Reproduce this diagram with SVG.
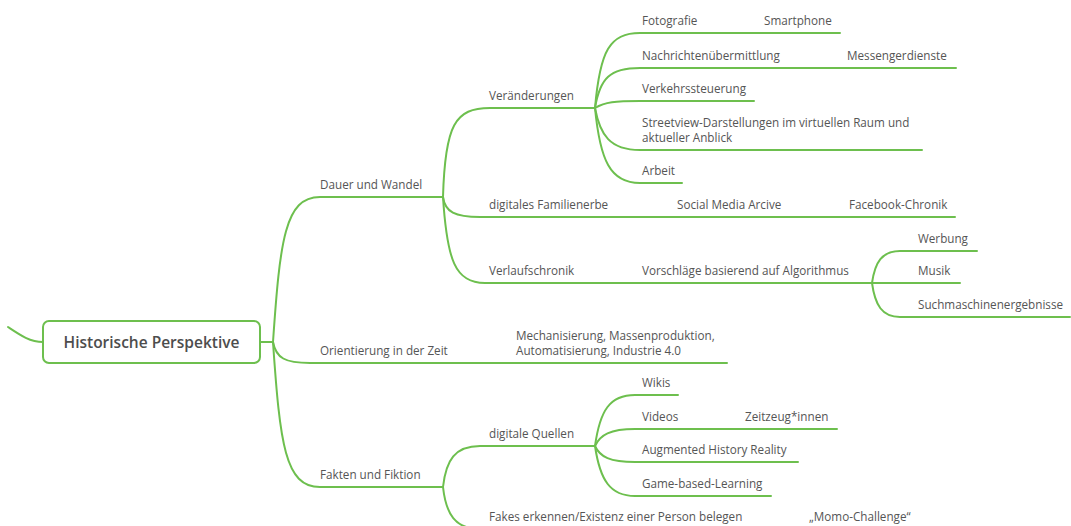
<svg xmlns="http://www.w3.org/2000/svg" width="1071" height="526" viewBox="0 0 1071 526">
  <style>
    .edge { fill: none; stroke: #6dbf4e; stroke-width: 2; stroke-linecap: round; }
    .lbl { font-family: "Open Sans", "Liberation Sans", sans-serif; font-size: 11.7px; fill: #555; }
    .root-box { fill: #fff; stroke: #6dbf4e; stroke-width: 2; }
    .root-lbl { font-family: "Open Sans", "Liberation Sans", sans-serif; font-size: 15.5px; font-weight: 600; fill: #4d4d4d; }
  </style>

  <!-- branches: each path runs from its parent's junction, bends, then underlines the topic -->
  <g id="connectors">
    <path class="edge" d="M8,327 C20,335 30,342 43,342"/>
    <path class="edge" d="M260,342 H273"/>
    <!-- main branches -->
    <path class="edge" d="M273,342 C280,240 285,197 320,197 H443"/>
    <path class="edge" d="M273,342 C276,358 285,363 310,363 H727"/>
    <path class="edge" d="M273,342 C280,444 285,487 320,487 H443"/>
    <!-- Dauer und Wandel -->
    <path class="edge" d="M443,197 C445,125 455,108 490,108 H595"/>
    <path class="edge" d="M443,197 C445,212 455,217 480,217 H955"/>
    <path class="edge" d="M443,197 C447,260 455,283 485,283 H872"/>
    <!-- Veränderungen -->
    <path class="edge" d="M595,108 C600,50 610,33 640,33 H840"/>
    <path class="edge" d="M595,108 C600,78 610,68 640,68 H956"/>
    <path class="edge" d="M595,108 C605,102 615,101 640,101 H754"/>
    <path class="edge" d="M595,108 C600,135 610,150 640,150 H922"/>
    <path class="edge" d="M595,108 C600,160 610,183 640,183 H682"/>
    <!-- Vorschläge basierend auf Algorithmus -->
    <path class="edge" d="M872,283 C875,262 882,251 900,251 H977"/>
    <path class="edge" d="M872,283 H960"/>
    <path class="edge" d="M872,283 C875,305 882,317 900,317 H1070"/>
    <!-- Fakten und Fiktion -->
    <path class="edge" d="M443,487 C446,460 455,446 480,446 H595"/>
    <path class="edge" d="M443,487 C446,514 455,529 480,529 H800"/>
    <!-- digitale Quellen -->
    <path class="edge" d="M595,446 C600,410 610,395 635,395 H678"/>
    <path class="edge" d="M595,446 C600,435 610,429 635,429 H837"/>
    <path class="edge" d="M595,446 C600,457 610,462 635,462 H798"/>
    <path class="edge" d="M595,446 C600,480 610,496 635,496 H771"/>
  </g>

  <g id="root">
    <rect class="root-box" x="43" y="321" width="217" height="42" rx="6"/>
    <text class="root-lbl" x="151.5" y="347.5" text-anchor="middle">Historische Perspektive</text>
  </g>

  <g id="dauer-und-wandel"><text class="lbl" x="320" y="189">Dauer und Wandel</text></g>
  <g id="veraenderungen"><text class="lbl" x="489" y="100">Veränderungen</text></g>
  <g id="fotografie"><text class="lbl" x="642" y="25">Fotografie</text></g>
  <g id="smartphone"><text class="lbl" x="764" y="25">Smartphone</text></g>
  <g id="nachrichten"><text class="lbl" x="642" y="60">Nachrichtenübermittlung</text></g>
  <g id="messenger"><text class="lbl" x="847" y="60">Messengerdienste</text></g>
  <g id="verkehr"><text class="lbl" x="642" y="93">Verkehrssteuerung</text></g>
  <g id="streetview">
    <text class="lbl" x="642" y="127">Streetview-Darstellungen im virtuellen Raum und</text>
    <text class="lbl" x="642" y="142">aktueller Anblick</text>
  </g>
  <g id="arbeit"><text class="lbl" x="642" y="175">Arbeit</text></g>
  <g id="familienerbe"><text class="lbl" x="489" y="209">digitales Familienerbe</text></g>
  <g id="social-media"><text class="lbl" x="677" y="209">Social Media Arcive</text></g>
  <g id="facebook"><text class="lbl" x="849" y="209">Facebook-Chronik</text></g>
  <g id="verlaufschronik"><text class="lbl" x="489" y="275">Verlaufschronik</text></g>
  <g id="vorschlaege"><text class="lbl" x="642" y="275">Vorschläge basierend auf Algorithmus</text></g>
  <g id="werbung"><text class="lbl" x="918" y="243">Werbung</text></g>
  <g id="musik"><text class="lbl" x="918" y="275">Musik</text></g>
  <g id="suchmaschinen"><text class="lbl" x="918" y="309">Suchmaschinenergebnisse</text></g>

  <g id="orientierung"><text class="lbl" x="320" y="355">Orientierung in der Zeit</text></g>
  <g id="industrie">
    <text class="lbl" x="516" y="340">Mechanisierung, Massenproduktion,</text>
    <text class="lbl" x="516" y="355">Automatisierung, Industrie 4.0</text>
  </g>

  <g id="fakten"><text class="lbl" x="320" y="479">Fakten und Fiktion</text></g>
  <g id="digitale-quellen"><text class="lbl" x="489" y="438">digitale Quellen</text></g>
  <g id="wikis"><text class="lbl" x="642" y="387">Wikis</text></g>
  <g id="videos"><text class="lbl" x="642" y="421">Videos</text></g>
  <g id="zeitzeugen"><text class="lbl" x="745" y="421">Zeitzeug*innen</text></g>
  <g id="augmented"><text class="lbl" x="642" y="454">Augmented History Reality</text></g>
  <g id="game"><text class="lbl" x="642" y="488">Game-based-Learning</text></g>
  <g id="fakes"><text class="lbl" x="489" y="521">Fakes erkennen/Existenz einer Person belegen</text></g>
  <g id="momo"><text class="lbl" x="809" y="521">„Momo-Challenge“</text></g>
</svg>
